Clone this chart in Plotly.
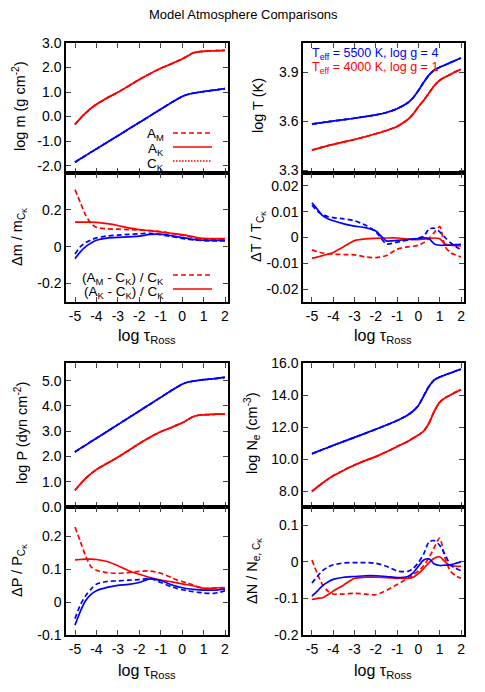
import plotly.graph_objects as go

# optical depth grid (log tau_Ross) shared by every curve
TAU = [-5, -4.75, -4.5, -4.25, -4, -3.5, -3, -2.5, -2, -1.5, -1, -0.5, -0.25,
       0, 0.25, 0.5, 0.75, 1, 1.25, 1.5, 1.75, 2]

# Teff = 5500 K, log g = 4 (blue)
hot_logm = [-1.86, -1.72, -1.59, -1.45, -1.32, -1.05, -0.78, -0.51, -0.24, 0.03, 0.30, 0.57, 0.70,
            0.82, 0.90, 0.95, 0.99, 1.02, 1.05, 1.08, 1.11, 1.14]
hot_logT = [3.585, 3.589, 3.594, 3.598, 3.603, 3.611, 3.620, 3.630, 3.640, 3.655, 3.678, 3.715, 3.745,
            3.790, 3.840, 3.885, 3.915, 3.932, 3.946, 3.960, 3.974, 3.988]
hot_logP = [2.18, 2.32, 2.45, 2.59, 2.72, 2.99, 3.26, 3.53, 3.80, 4.07, 4.34, 4.61, 4.74,
            4.86, 4.94, 4.98, 5.01, 5.04, 5.06, 5.08, 5.11, 5.13]
hot_logNe = [10.33, 10.46, 10.59, 10.72, 10.85, 11.10, 11.35, 11.60, 11.86, 12.12, 12.40, 12.75, 13.00,
             13.35, 13.95, 14.55, 14.95, 15.12, 15.25, 15.37, 15.50, 15.62]

# Teff = 4000 K, log g = 1 (red)
cool_logm = [-0.32, -0.07, 0.15, 0.34, 0.50, 0.76, 0.99, 1.25, 1.51, 1.75, 1.97, 2.15, 2.25,
             2.35, 2.47, 2.59, 2.64, 2.66, 2.675, 2.685, 2.69, 2.70]
cool_logT = [3.425, 3.434, 3.443, 3.452, 3.460, 3.475, 3.490, 3.507, 3.525, 3.545, 3.570, 3.612, 3.645,
             3.690, 3.730, 3.775, 3.820, 3.852, 3.872, 3.888, 3.905, 3.920]
cool_logP = [0.66, 0.91, 1.13, 1.32, 1.48, 1.73, 1.97, 2.24, 2.51, 2.76, 2.98, 3.15, 3.24,
             3.33, 3.45, 3.57, 3.63, 3.65, 3.66, 3.67, 3.675, 3.68]
cool_logNe = [7.98, 8.25, 8.50, 8.74, 8.95, 9.30, 9.62, 9.90, 10.15, 10.45, 10.78, 11.10, 11.30,
              11.50, 11.75, 12.25, 13.00, 13.55, 13.82, 14.00, 14.18, 14.33]

# relative differences, (A_M - C_K)/C_K  and  (A_K - C_K)/C_K
hot_dm_AM = [-0.040, 0.000, 0.022, 0.037, 0.048, 0.058, 0.063, 0.067, 0.070, 0.073, 0.065, 0.055, 0.050,
             0.045, 0.041, 0.037, 0.035, 0.033, 0.032, 0.032, 0.032, 0.032]
hot_dm_AK = [-0.065, -0.028, 0.000, 0.020, 0.035, 0.047, 0.051, 0.053, 0.057, 0.067, 0.068, 0.060, 0.055,
             0.050, 0.045, 0.040, 0.037, 0.035, 0.034, 0.034, 0.034, 0.035]
cool_dm_AM = [0.310, 0.240, 0.170, 0.125, 0.105, 0.097, 0.095, 0.093, 0.090, 0.087, 0.082, 0.072, 0.067,
              0.062, 0.056, 0.050, 0.043, 0.040, 0.040, 0.041, 0.042, 0.043]
cool_dm_AK = [0.133, 0.133, 0.133, 0.133, 0.132, 0.125, 0.115, 0.102, 0.093, 0.087, 0.080, 0.073, 0.070,
              0.066, 0.060, 0.055, 0.048, 0.045, 0.044, 0.044, 0.044, 0.044]

hot_dT_AM = [0.0125, 0.0103, 0.0088, 0.0081, 0.0077, 0.0072, 0.0065, 0.0048, 0.0022, -0.0025, -0.0018,
             -0.0010, -0.0006, -0.0002, 0.0005, 0.0033, 0.0036, 0.0022, 0.0000, -0.0020, -0.0035, -0.0048]
hot_dT_AK = [0.0135, 0.0110, 0.0085, 0.0073, 0.0065, 0.0053, 0.0044, 0.0038, 0.0025, -0.0013, -0.0011,
             -0.0008, -0.0006, -0.0004, -0.0001, -0.0005, -0.0025, -0.0030, -0.0030, -0.0030, -0.0028, -0.0027]
cool_dT_AM = [-0.0048, -0.0055, -0.0060, -0.0063, -0.0065, -0.0066, -0.0067, -0.0075, -0.0078, -0.0070, -0.0045,
              -0.0036, -0.0034, -0.0030, -0.0020, -0.0002, 0.0020, 0.0042, -0.0035, -0.0058, -0.0068, -0.0075]
cool_dT_AK = [-0.0080, -0.0076, -0.0070, -0.0065, -0.0058, -0.0035, -0.0012, -0.0005, -0.0003, -0.0002, -0.0002,
              -0.0006, -0.0008, -0.0008, -0.0006, -0.0004, -0.0002, -0.0005, -0.0025, -0.0030, -0.0032, -0.0033]

hot_dP_AM = [-0.050, -0.008, 0.020, 0.040, 0.055, 0.063, 0.065, 0.067, 0.069, 0.072, 0.060, 0.047, 0.042,
             0.038, 0.035, 0.032, 0.030, 0.028, 0.027, 0.027, 0.030, 0.035]
hot_dP_AK = [-0.070, -0.028, 0.005, 0.024, 0.035, 0.045, 0.051, 0.054, 0.060, 0.071, 0.066, 0.053, 0.048,
             0.044, 0.041, 0.039, 0.038, 0.037, 0.037, 0.037, 0.038, 0.039]
cool_dP_AM = [0.229, 0.185, 0.140, 0.108, 0.097, 0.090, 0.088, 0.090, 0.094, 0.095, 0.088, 0.075, 0.068,
              0.063, 0.058, 0.053, 0.047, 0.042, 0.042, 0.043, 0.043, 0.044]
cool_dP_AK = [0.129, 0.130, 0.131, 0.131, 0.130, 0.124, 0.111, 0.096, 0.085, 0.075, 0.067, 0.062, 0.059,
              0.056, 0.053, 0.050, 0.046, 0.042, 0.042, 0.043, 0.044, 0.044]

hot_dN_AM = [-0.058, -0.040, -0.024, -0.014, -0.008, -0.003, -0.002, -0.002, -0.004, -0.012, -0.025, -0.026, -0.018,
             -0.002, 0.022, 0.055, 0.058, 0.045, 0.020, -0.008, -0.018, -0.024]
hot_dN_AK = [-0.094, -0.080, -0.065, -0.055, -0.048, -0.042, -0.040, -0.038, -0.038, -0.040, -0.043, -0.040, -0.030,
             -0.012, 0.005, 0.008, -0.006, -0.010, -0.009, -0.008, -0.004, 0.000]
cool_dN_AM = [0.005, -0.032, -0.063, -0.080, -0.088, -0.088, -0.086, -0.088, -0.090, -0.078, -0.062, -0.045, -0.036,
              -0.025, -0.010, 0.012, 0.040, 0.065, 0.010, -0.025, -0.038, -0.045]
cool_dN_AK = [-0.103, -0.100, -0.098, -0.090, -0.080, -0.063, -0.045, -0.042, -0.042, -0.043, -0.045, -0.045, -0.042,
              -0.032, -0.018, -0.002, 0.010, 0.014, 0.000, -0.010, -0.012, -0.012]

x_ticks = [-5, -4, -3, -2, -1, 0, 1, 2]

# the page adds an 8px body margin, so the figure is 8px smaller and all
# pixel positions below are shifted by that amount
PAD = 8
W, H = 485 - PAD, 692 - PAD
FONT = "Liberation Sans"
BLUE, RED = "#0000ff", "#ff0000"
DASH, DOT = "5px,3px", "1.5px,1.5px"


def px_x(v):
    return (v - PAD) / W


def px_y(v):
    return 1 - (v - PAD) / H


fig = go.Figure()

# panel boxes in window pixels: (left, right, top, bottom)
panels = {
    1: (66, 228, 43, 173), 2: (66, 228, 173, 302),
    3: (303, 464, 43, 173), 4: (303, 464, 173, 302),
    5: (66, 228, 363, 507), 6: (66, 228, 507, 635),
    7: (303, 464, 363, 507), 8: (303, 464, 507, 635),
}
yranges = {1: [-2.3, 3.0], 2: [-0.3, 0.4], 3: [3.285, 4.08], 4: [-0.025, 0.025],
           5: [0, 5.7], 6: [-0.1, 0.29], 7: [7, 16], 8: [-0.2, 0.15]}
ytick_vals = {
    1: [-2, -1, 0, 1, 2, 3], 2: [-0.2, 0, 0.2], 3: [3.3, 3.6, 3.9], 4: [-0.02, -0.01, 0, 0.01, 0.02],
    5: [0, 1, 2, 3, 4, 5], 6: [-0.1, 0, 0.1, 0.2], 7: [8, 10, 12, 14, 16], 8: [-0.2, -0.1, 0, 0.1],
}
ytick_text = {
    1: ["-2.0", "-1.0", "0.0", "1.0", "2.0", "3.0"], 2: ["-0.2", "0", "0.2"], 3: ["3.3", "3.6", "3.9"],
    4: ["-0.02", "-0.01", "0", "0.01", "0.02"], 5: ["0.0", "1.0", "2.0", "3.0", "4.0", "5.0"],
    6: ["-0.1", "0", "0.1", "0.2"], 7: ["8.0", "10.0", "12.0", "14.0", "16.0"], 8: ["-0.2", "-0.1", "0", "0.1"],
}

layout = dict(width=W, height=H, margin=dict(l=0, r=0, t=0, b=0),
              paper_bgcolor="white", plot_bgcolor="white", showlegend=False,
              font=dict(family=FONT, size=14, color="black"))

for k, (l, r, t, b) in panels.items():
    lower = k % 2 == 0
    layout[f"xaxis{k}"] = dict(
        domain=[px_x(l), px_x(r)], anchor=f"y{k}", range=[-5.42, 2.14],
        tickvals=x_ticks, ticktext=[str(v) for v in x_ticks], showticklabels=lower,
        ticks="inside", ticklen=5, tickwidth=1, mirror="ticks", showline=True,
        linecolor="black", linewidth=1.5, showgrid=False, zeroline=False,
        tickfont=dict(size=14), automargin=False)
    layout[f"yaxis{k}"] = dict(
        domain=[px_y(b), px_y(t)], anchor=f"x{k}", range=yranges[k],
        tickvals=ytick_vals[k], ticktext=ytick_text[k],
        ticks="inside", ticklen=5, tickwidth=1, mirror="ticks", showline=True,
        linecolor="black", linewidth=1.5, showgrid=False, zeroline=False,
        tickfont=dict(size=14), automargin=False)


def add(k, y, color, dash=None):
    fig.add_trace(go.Scatter(
        x=TAU, y=y, mode="lines", xaxis=f"x{k}", yaxis=f"y{k}",
        line=dict(color=color, width=1.7, dash=dash, shape="spline", smoothing=0.7),
        hoverinfo="skip"))


# main panels: A_M, A_K, C_K nearly coincide
for k, hot, cool in [(1, hot_logm, cool_logm), (3, hot_logT, cool_logT),
                     (5, hot_logP, cool_logP), (7, hot_logNe, cool_logNe)]:
    for ys, c in [(cool, RED), (hot, BLUE)]:
        add(k, ys, c, DOT)
        add(k, ys, c, DASH)
        add(k, ys, c, None)

# difference panels
for k, hAM, hAK, cAM, cAK in [(2, hot_dm_AM, hot_dm_AK, cool_dm_AM, cool_dm_AK),
                              (4, hot_dT_AM, hot_dT_AK, cool_dT_AM, cool_dT_AK),
                              (6, hot_dP_AM, hot_dP_AK, cool_dP_AM, cool_dP_AK),
                              (8, hot_dN_AM, hot_dN_AK, cool_dN_AM, cool_dN_AK)]:
    add(k, cAM, RED, DASH)
    add(k, cAK, RED, None)
    add(k, hAM, BLUE, DASH)
    add(k, hAK, BLUE, None)

ann = []


def text(x, y, s, size=14, color="black", angle=0, xanchor="center"):
    ann.append(dict(x=px_x(x), y=px_y(y), xref="paper", yref="paper", text=s, showarrow=False,
                    textangle=angle, xanchor=xanchor, yanchor="middle",
                    font=dict(family=FONT, size=size, color=color)))


text(243, 15, "Model Atmosphere Comparisons", size=13)

# y-axis titles
text(19, 106, "log m (g cm<sup>-2</sup>)", size=14.5, angle=-90)
text(19, 237, "Δm / m<sub>C<sub>K</sub></sub>", size=14.5, angle=-90)
text(258, 106, "log T (K)", size=14.5, angle=-90)
text(258, 237, "ΔT / T<sub>C<sub>K</sub></sub>", size=14.5, angle=-90)
text(21, 433, "log P (dyn cm<sup>-2</sup>)", size=14.5, angle=-90)
text(19, 571, "ΔP / P<sub>C<sub>K</sub></sub>", size=14.5, angle=-90)
text(252, 433, "log N<sub>e</sub> (cm<sup>-3</sup>)", size=14.5, angle=-90)
text(254, 571, "ΔN / N<sub>e, C<sub>K</sub></sub>", size=14.5, angle=-90)

# x-axis titles
for cx in (147, 383):
    text(cx, 336, "log τ<sub>Ross</sub>", size=16)
    text(cx, 671, "log τ<sub>Ross</sub>", size=16)

# legends
text(166, 135, "A<sub>M</sub>", size=13.5, xanchor="right")
text(166, 149.5, "A<sub>K</sub>", size=13.5, xanchor="right")
text(166, 164, "C<sub>K</sub>", size=13.5, xanchor="right")
text(166, 278, "(A<sub>M</sub> - C<sub>K</sub>) / C<sub>K</sub>", size=13.5, xanchor="right")
text(166, 292, "(A<sub>K</sub> - C<sub>K</sub>) / C<sub>K</sub>", size=13.5, xanchor="right")
text(310, 54, "T<sub>eff</sub> = 5500 K, log g = 4", size=12.5, color=BLUE, xanchor="left")
text(310, 68, "T<sub>eff</sub> = 4000 K, log g = 1", size=12.5, color=RED, xanchor="left")

shapes = []
for y, d in [(133, DASH), (147, None), (161, DOT), (275, DASH), (289, None)]:
    shapes.append(dict(type="line", xref="paper", yref="paper",
                       x0=px_x(173), x1=px_x(212), y0=px_y(y), y1=px_y(y),
                       line=dict(color=RED, width=1.7, dash=d)))

layout["annotations"] = ann
layout["shapes"] = shapes
fig.update_layout(**layout)

fig.write_html("out.html")
